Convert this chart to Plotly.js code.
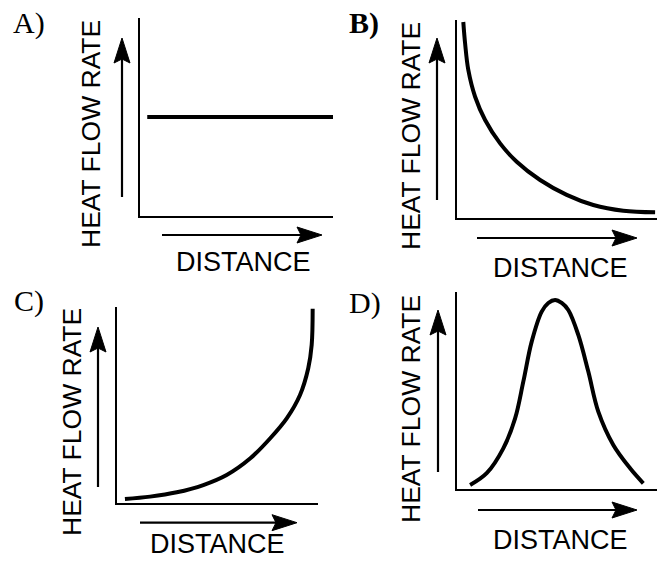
<!DOCTYPE html>
<html>
<head>
<meta charset="utf-8">
<script src="https://cdn.plot.ly/plotly-3.0.1.min.js"></script>
<style>
  html, body { margin: 0; padding: 0; background: #ffffff; }
  #chart { width: 665px; height: 561px; }
</style>
</head>
<body>
<div id="chart"></div>
<script>
// ---------- data (normalised distance / heat flow rate) ----------
const panelLabels = ['A)', 'B)', 'C)', 'D)'];
const xAxisTitle = 'DISTANCE';
const yAxisTitle = 'HEAT FLOW RATE';

// A) constant
const distA = [0.04, 1.0];
const rateA = [0.5, 0.5];

// B) decreasing
const distB = [0.033, 0.042, 0.058, 0.092, 0.142, 0.217, 0.300, 0.417, 0.550, 0.683, 0.833, 0.992];
const rateB = [0.990, 0.882, 0.748, 0.613, 0.496, 0.378, 0.285, 0.193, 0.118, 0.067, 0.038, 0.030];

// C) increasing
const distC = [0.038, 0.163, 0.296, 0.428, 0.544, 0.662, 0.761, 0.843, 0.909, 0.950, 0.967, 0.972];
const rateC = [0.022, 0.034, 0.056, 0.093, 0.144, 0.229, 0.331, 0.432, 0.551, 0.687, 0.805, 0.990];

// D) bell
const distD = [0.064, 0.147, 0.230, 0.289, 0.330, 0.372, 0.422, 0.455, 0.489, 0.522, 0.555, 0.605, 0.655, 0.705, 0.780, 0.864, 0.930];
const rateD = [0.020, 0.080, 0.206, 0.358, 0.544, 0.747, 0.899, 0.943, 0.958, 0.943, 0.907, 0.781, 0.595, 0.392, 0.223, 0.105, 0.029];

// ---------- layout helpers ----------
const W = 665, H = 561;
const px = x => x / W;
const py = y => 1 - y / H;

const lineStyle = { color: '#000', width: 4, shape: 'spline', smoothing: 1 };
const traces = [
  { x: distA, y: rateA, xaxis: 'x',  yaxis: 'y',  mode: 'lines', line: Object.assign({}, lineStyle, {shape: 'linear'}) },
  { x: distB, y: rateB, xaxis: 'x2', yaxis: 'y2', mode: 'lines', line: lineStyle },
  { x: distC, y: rateC, xaxis: 'x3', yaxis: 'y3', mode: 'lines', line: lineStyle },
  { x: distD, y: rateD, xaxis: 'x4', yaxis: 'y4', mode: 'lines', line: lineStyle }
];

function axis(domain) {
  return {
    domain: domain, range: [0, 1], showline: true, linecolor: '#000', linewidth: 2,
    showgrid: false, zeroline: false, ticks: '', showticklabels: false, fixedrange: true
  };
}

// panel geometry in pixels: [left, right, bottom, top]
const boxes = [
  [139.5, 333, 216, 18],
  [456.7, 656.7, 218.3, 20],
  [117.3, 318.3, 503.3, 306.7],
  [457.3, 657.3, 489, 291.7]
];
const layout = {
  width: W, height: H, margin: { l: 0, r: 0, t: 0, b: 0 },
  paper_bgcolor: '#fff', plot_bgcolor: '#fff', showlegend: false,
  shapes: [], annotations: []
};
boxes.forEach((b, i) => {
  const s = i === 0 ? '' : String(i + 1);
  layout['xaxis' + s] = Object.assign(axis([px(b[0]), px(b[1])]), { anchor: 'y' + s });
  layout['yaxis' + s] = Object.assign(axis([py(b[2]), py(b[3])]), { anchor: 'x' + s });
});

// arrows: [x, yBottom, yTip] vertical ; [y, xStart, xTip] horizontal
const upArrows = [[122, 197, 38], [437, 200, 38], [98, 487, 327], [438, 472, 310]];
const rightArrows = [[235, 162, 322], [238, 477, 637], [522.7, 140, 297], [510, 478, 637]];
const HL = 25, HW = 8, NOTCH = 4;
upArrows.forEach(a => {
  const [x, y0, y1] = a;
  layout.shapes.push({ type: 'line', xref: 'paper', yref: 'paper', x0: px(x), x1: px(x), y0: py(y0), y1: py(y1 + 10), line: { color: '#000', width: 2.2 } });
  layout.shapes.push({ type: 'path', xref: 'paper', yref: 'paper', fillcolor: '#000', line: { color: '#000', width: 1 },
    path: `M${px(x)},${py(y1)} L${px(x - HW)},${py(y1 + HL)} L${px(x)},${py(y1 + HL - NOTCH)} L${px(x + HW)},${py(y1 + HL)} Z` });
});
rightArrows.forEach(a => {
  const [y, x0, x1] = a;
  layout.shapes.push({ type: 'line', xref: 'paper', yref: 'paper', x0: px(x0), x1: px(x1 - 10), y0: py(y), y1: py(y), line: { color: '#000', width: 2.2 } });
  layout.shapes.push({ type: 'path', xref: 'paper', yref: 'paper', fillcolor: '#000', line: { color: '#000', width: 1 },
    path: `M${px(x1)},${py(y)} L${px(x1 - HL)},${py(y - HW)} L${px(x1 - HL + NOTCH)},${py(y)} L${px(x1 - HL)},${py(y + HW)} Z` });
});

// text
const labelPos = [[29, 23, false], [364, 23, true], [29, 301, false], [365, 303, false]];
labelPos.forEach((p, i) => {
  layout.annotations.push({ xref: 'paper', yref: 'paper', x: px(p[0]), y: py(p[1]), xanchor: 'center', yanchor: 'middle', showarrow: false,
    text: p[2] ? '<b>' + panelLabels[i] + '</b>' : panelLabels[i],
    font: { family: 'Liberation Serif, Times New Roman, serif', size: 30, color: '#000' } });
});
const yTitlePos = [[91, 134], [411, 136], [72, 422], [411, 409]];
yTitlePos.forEach(p => {
  layout.annotations.push({ xref: 'paper', yref: 'paper', x: px(p[0]), y: py(p[1]), xanchor: 'center', yanchor: 'middle', showarrow: false,
    textangle: -90, text: yAxisTitle, font: { family: 'Liberation Sans, Arial, sans-serif', size: 26.5, color: '#000' } });
});
const xTitlePos = [[243, 262], [560, 268], [217, 544], [560, 540]];
xTitlePos.forEach(p => {
  layout.annotations.push({ xref: 'paper', yref: 'paper', x: px(p[0]), y: py(p[1]), xanchor: 'center', yanchor: 'middle', showarrow: false,
    borderpad: 0, text: xAxisTitle, font: { family: 'Liberation Sans, Arial, sans-serif', size: 27, color: '#000' } });
});

Plotly.newPlot('chart', traces, layout, { staticPlot: true, displayModeBar: false });
</script>
</body>
</html>
